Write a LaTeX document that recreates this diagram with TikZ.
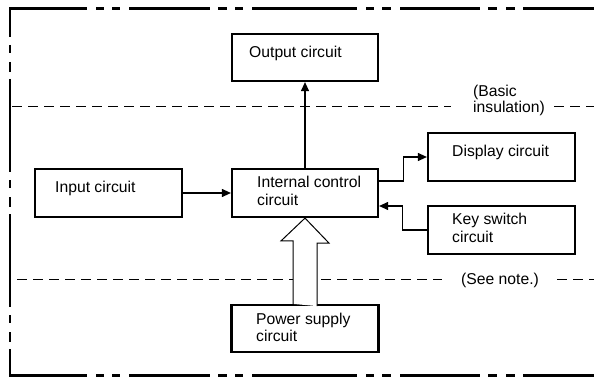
\documentclass[tikz,border=0pt]{standalone}
\usepackage{fontspec}
\setmainfont{Liberation Sans}
\usetikzlibrary{arrows.meta}
\begin{document}
\begin{tikzpicture}[x=1pt,y=-1pt,
  box/.style={draw, line width=2.2pt, inner sep=0pt},
  lbl/.style={inner sep=0pt, anchor=base west, font=\fontsize{15.7}{18}\selectfont},
  conn/.style={line width=1.1pt, -{Triangle[length=9pt,width=8pt]}},
  framel/.style={line width=2.4pt},
  sepline/.style={line width=1pt, dash pattern=on 10pt off 6pt},
  hollow/.style={line width=1pt, fill=white, line join=miter},
]
\useasboundingbox (0,0) rectangle (594,377);

% outer frame (dash-dot-dot)
\draw[framel] (10,37) -- (10,8.5) -- (87,8.5);
\draw[framel] (10,349) -- (10,375.5) -- (87,375.5);
\foreach \a/\b in {96/104,112/120,129/210,218/227,235/243,252/357,366/374,382/391,400/480,488/497,506/515,523/596}{
  \draw[framel] (\a,8.5) -- (\b,8.5);
  \draw[framel] (\a,375.5) -- (\b,375.5);
}
\foreach \a/\b in {45/53,62/72,79/172,180/188,197/207,214/307,315/323,332/342}{
  \draw[framel] (10,\a) -- (10,\b);
}

% insulation boundaries
\draw[sepline] (12,107) -- (451,107);
\draw[sepline] (554,107) -- (596,107);
\draw[sepline] (17,279) -- (442,279);
\draw[sepline] (557,279) -- (596,279);
\node[lbl] (basic) at (473,97) {\begin{tabular}[t]{@{}l@{}}(Basic\\[-2pt]insulation)\end{tabular}};
\node[lbl] (seenote) at (461,284) {(See note.)};

% boxes
\node[box, minimum width=146pt, minimum height=47pt] (outb) at (305,57.5) {};
\node[box, minimum width=147pt, minimum height=48pt] (inb) at (108.5,193) {};
\node[box, minimum width=146pt, minimum height=48pt] (intb) at (305,193) {};
\node[box, minimum width=147pt, minimum height=48pt] (disp) at (501.5,157) {};
\node[box, minimum width=147pt, minimum height=48pt] (keyb) at (501.5,230) {};
\node[box, minimum width=147pt, minimum height=47pt] (pwr) at (305,328.5) {};

% texts
\node[lbl] (outt) at (249,58) {Output circuit};
\node[lbl] (int) at (55,192) {Input circuit};
\node[lbl] (intt) at (257,187) {\begin{tabular}[t]{@{}l@{}}Internal control\\circuit\end{tabular}};
\node[lbl] (dispt) at (452,156) {Display circuit};
\node[lbl] (keyt) at (452,224) {\begin{tabular}[t]{@{}l@{}}Key switch\\circuit\end{tabular}};
\node[lbl] (pwrt) at (256,324) {\begin{tabular}[t]{@{}l@{}}Power supply\\[-1pt]circuit\end{tabular}};

% connectors
\draw[conn] (intb.north) -- (outb.south);
\draw[conn] (inb.east) -- (intb.west);
\draw[conn] ([yshift=12pt]intb.east) -- ++(24,0) |- (disp.west);
\draw[conn] (keyb.west) -- ++(-24,0) |- ([yshift=-13pt]intb.east);

% hollow power arrow
\draw[hollow] ([xshift=-12pt]pwr.north) -- ++(0,-63) -- ++(-12,0) -- (intb.south) -- ++(24,25) -- ++(-12,0) -- ++(0,63);
\end{tikzpicture}
\end{document}
